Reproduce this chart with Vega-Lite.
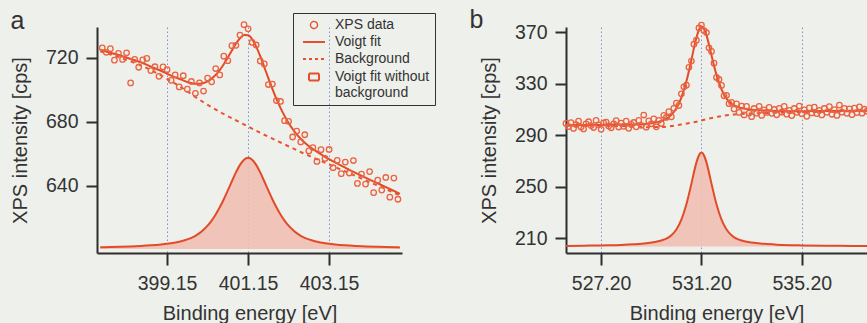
{
  "$schema": "https://vega.github.io/schema/vega-lite/v6.json",
  "background": "#eef0ec",
  "padding": {"left": 10, "top": 7, "right": 0, "bottom": 0},
  "bounds": "flush",
  "spacing": 164,
  "config": {
    "font": "Liberation Sans",
    "view": {"stroke": null},
    "axis": {
      "labelFont": "Liberation Sans", "labelFontSize": 19.5, "labelColor": "#333333",
      "titleFont": "Liberation Sans", "titleFontSize": 20, "titleFontWeight": "normal", "titleColor": "#333333",
      "domainColor": "#2e2e2e", "domainWidth": 2, "tickColor": "#2e2e2e", "tickWidth": 2
    },
    "axisX": {"tickSize": 12, "labelPadding": 9, "titlePadding": 11, "grid": true, "gridColor": "#8888dd", "gridDash": [1.5, 2.5], "gridWidth": 1, "labelFlush": false},
    "axisY": {"tickSize": 11, "labelPadding": 8, "titlePadding": 15, "grid": false},
    "title": {"font": "Liberation Sans", "fontSize": 25, "fontWeight": "normal", "color": "#333333", "anchor": "start", "frame": "bounds", "baseline": "alphabetic"}
  },
  "datasets": {
    "a_data": [
      {"x":397.55,"y":726.2},{"x":397.65,"y":723.4},{"x":397.75,"y":725.7},{"x":397.85,"y":718.5},{"x":397.95,"y":722.8},
      {"x":398.05,"y":719.0},{"x":398.15,"y":723.1},{"x":398.25,"y":704.3},{"x":398.35,"y":719.0},{"x":398.45,"y":714.1},
      {"x":398.55,"y":718.7},{"x":398.65,"y":719.6},{"x":398.75,"y":712.0},{"x":398.85,"y":714.4},{"x":398.95,"y":708.4},
      {"x":399.05,"y":714.3},{"x":399.15,"y":712.6},{"x":399.25,"y":705.9},{"x":399.35,"y":709.3},{"x":399.45,"y":701.8},
      {"x":399.55,"y":708.8},{"x":399.65,"y":700.4},{"x":399.75,"y":705.2},{"x":399.85,"y":697.8},{"x":399.95,"y":704.3},
      {"x":400.05,"y":699.2},{"x":400.15,"y":707.3},{"x":400.25,"y":705.0},{"x":400.35,"y":713.3},{"x":400.45,"y":709.3},
      {"x":400.55,"y":721.0},{"x":400.65,"y":718.2},{"x":400.75,"y":727.6},{"x":400.85,"y":727.8},{"x":400.95,"y":734.2},
      {"x":401.05,"y":740.7},{"x":401.15,"y":738.1},{"x":401.25,"y":729.6},{"x":401.35,"y":728.0},{"x":401.45,"y":718.0},
      {"x":401.55,"y":716.2},{"x":401.65,"y":703.3},{"x":401.75,"y":703.6},{"x":401.85,"y":693.3},{"x":401.95,"y":692.7},
      {"x":402.05,"y":680.7},{"x":402.15,"y":680.3},{"x":402.25,"y":670.5},{"x":402.35,"y":674.2},{"x":402.45,"y":667.4},
      {"x":402.55,"y":671.9},{"x":402.65,"y":661.8},{"x":402.75,"y":663.9},{"x":402.85,"y":655.2},{"x":402.95,"y":662.6},
      {"x":403.05,"y":657.1},{"x":403.15,"y":662.7},{"x":403.25,"y":651.3},{"x":403.35,"y":655.9},{"x":403.45,"y":647.6},
      {"x":403.55,"y":654.8},{"x":403.65,"y":648.0},{"x":403.75,"y":655.8},{"x":403.85,"y":641.5},{"x":403.95,"y":647.3},
      {"x":404.05,"y":641.1},{"x":404.15,"y":648.9},{"x":404.25,"y":635.7},{"x":404.35,"y":643.5},{"x":404.45,"y":637.3},
      {"x":404.55,"y":645.2},{"x":404.65,"y":632.9},{"x":404.75,"y":644.8},{"x":404.85,"y":631.6}
    ],
    "a_fit": [
      {"x":397.5,"y":725.05},{"x":397.75,"y":723.2},{"x":398.0,"y":721.4},{"x":398.25,"y":719.3},{"x":398.5,"y":717.2},
      {"x":398.75,"y":714.5},{"x":399.0,"y":711.9},{"x":399.25,"y":708.9},{"x":399.5,"y":706.4},{"x":399.65,"y":704.9},
      {"x":399.75,"y":704.2},{"x":399.85,"y":703.8},{"x":399.95,"y":703.8},{"x":400.05,"y":704.2},{"x":400.15,"y":705.3},
      {"x":400.25,"y":707.0},{"x":400.35,"y":709.3},{"x":400.45,"y":712.3},{"x":400.55,"y":716.0},{"x":400.65,"y":720.2},
      {"x":400.75,"y":724.6},{"x":400.85,"y":728.8},{"x":400.95,"y":732.2},{"x":401.05,"y":734.2},{"x":401.15,"y":734.1},
      {"x":401.25,"y":731.6},{"x":401.35,"y":727.0},{"x":401.45,"y":721.0},{"x":401.55,"y":714.2},{"x":401.65,"y":707.3},
      {"x":401.75,"y":700.6},{"x":401.85,"y":694.3},{"x":401.95,"y":688.7},{"x":402.05,"y":683.7},{"x":402.15,"y":679.3},
      {"x":402.25,"y":675.5},{"x":402.35,"y":672.2},{"x":402.45,"y":669.4},{"x":402.55,"y":666.9},{"x":402.65,"y":664.8},
      {"x":402.8,"y":662.1},{"x":403.05,"y":658.1},{"x":403.3,"y":654.6},{"x":403.55,"y":651.3},{"x":403.8,"y":648.1},
      {"x":404.05,"y":645.1},{"x":404.3,"y":642.1},{"x":404.55,"y":639.2},{"x":404.8,"y":636.2},{"x":404.9,"y":635.0}
    ],
    "a_bg": [
      {"x":397.5,"y":724},{"x":398.0,"y":720},{"x":398.5,"y":715.3},{"x":399.0,"y":709},{"x":399.5,"y":701.5},
      {"x":400.0,"y":693},{"x":400.5,"y":685.5},{"x":401.0,"y":679},{"x":401.5,"y":672.5},{"x":402.0,"y":666.5},
      {"x":402.5,"y":660.5},{"x":403.0,"y":655},{"x":403.5,"y":649.5},{"x":404.0,"y":644},{"x":404.5,"y":638.5},{"x":404.9,"y":634}
    ],
    "a_peak": [
      {"x":397.5,"y":601.55},{"x":397.75,"y":601.71},{"x":398.0,"y":601.9},{"x":398.25,"y":602.14},{"x":398.5,"y":602.44},
      {"x":398.75,"y":602.84},{"x":399.0,"y":603.37},{"x":399.25,"y":604.15},{"x":399.5,"y":605.36},{"x":399.65,"y":606.48},
      {"x":399.75,"y":607.48},{"x":399.85,"y":608.77},{"x":399.95,"y":610.41},{"x":400.05,"y":612.48},{"x":400.15,"y":615.08},
      {"x":400.25,"y":618.26},{"x":400.35,"y":622.08},{"x":400.45,"y":626.54},{"x":400.55,"y":631.6},{"x":400.65,"y":637.12},
      {"x":400.75,"y":642.84},{"x":400.85,"y":648.36},{"x":400.95,"y":653.09},{"x":401.05,"y":656.34},{"x":401.15,"y":657.5},
      {"x":401.25,"y":656.34},{"x":401.35,"y":653.09},{"x":401.45,"y":648.36},{"x":401.55,"y":642.84},{"x":401.65,"y":637.12},
      {"x":401.75,"y":631.6},{"x":401.85,"y":626.54},{"x":401.95,"y":622.08},{"x":402.05,"y":618.26},{"x":402.15,"y":615.08},
      {"x":402.25,"y":612.48},{"x":402.35,"y":610.41},{"x":402.45,"y":608.77},{"x":402.55,"y":607.48},{"x":402.65,"y":606.48},
      {"x":402.8,"y":605.36},{"x":403.05,"y":604.15},{"x":403.3,"y":603.37},{"x":403.55,"y":602.84},{"x":403.8,"y":602.44},
      {"x":404.05,"y":602.14},{"x":404.3,"y":601.9},{"x":404.55,"y":601.71},{"x":404.8,"y":601.55},{"x":404.9,"y":601.5}
    ],
    "b_data": [
      {"x":525.8,"y":299.1},{"x":525.9,"y":296.6},{"x":526.0,"y":299.7},{"x":526.1,"y":295.2},{"x":526.2,"y":298.2},
      {"x":526.3,"y":300.8},{"x":526.4,"y":296.3},{"x":526.5,"y":294.8},{"x":526.6,"y":298.8},{"x":526.7,"y":300.4},
      {"x":526.8,"y":297.4},{"x":526.9,"y":295.9},{"x":527.0,"y":301.4},{"x":527.1,"y":298.0},{"x":527.2,"y":294.5},
      {"x":527.3,"y":299.5},{"x":527.4,"y":300.1},{"x":527.5,"y":297.1},{"x":527.6,"y":295.7},{"x":527.7,"y":298.7},
      {"x":527.8,"y":301.2},{"x":527.9,"y":296.3},{"x":528.0,"y":299.3},{"x":528.1,"y":296.8},{"x":528.2,"y":300.8},
      {"x":528.3,"y":295.3},{"x":528.4,"y":298.3},{"x":528.5,"y":299.8},{"x":528.6,"y":296.4},{"x":528.7,"y":301.5},
      {"x":528.8,"y":297.6},{"x":528.9,"y":305.6},{"x":529.0,"y":296.2},{"x":529.1,"y":301.0},{"x":529.2,"y":298.8},
      {"x":529.3,"y":302.6},{"x":529.4,"y":296.4},{"x":529.5,"y":301.5},{"x":529.6,"y":299.0},{"x":529.7,"y":305.4},
      {"x":529.8,"y":303.7},{"x":529.9,"y":308.2},{"x":530.0,"y":304.2},{"x":530.1,"y":310.8},{"x":530.2,"y":314.8},
      {"x":530.3,"y":313.0},{"x":530.4,"y":322.1},{"x":530.5,"y":327.5},{"x":530.6,"y":328.8},{"x":530.7,"y":342.7},
      {"x":530.8,"y":347.5},{"x":530.9,"y":360.6},{"x":531.0,"y":363.7},{"x":531.1,"y":373.3},{"x":531.2,"y":375.4},
      {"x":531.3,"y":371.2},{"x":531.4,"y":369.7},{"x":531.5,"y":357.8},{"x":531.6,"y":355.0},{"x":531.7,"y":345.9},
      {"x":531.8,"y":334.8},{"x":531.9,"y":333.2},{"x":532.0,"y":328.6},{"x":532.1,"y":320.5},{"x":532.2,"y":320.9},
      {"x":532.3,"y":314.4},{"x":532.4,"y":315.4},{"x":532.5,"y":310.3},{"x":532.6,"y":314.2},{"x":532.7,"y":307.6},
      {"x":532.8,"y":312.5},{"x":532.9,"y":305.7},{"x":533.0,"y":312.4},{"x":533.1,"y":307.1},{"x":533.2,"y":304.3},
      {"x":533.3,"y":310.7},{"x":533.4,"y":307.0},{"x":533.5,"y":312.4},{"x":533.6,"y":305.3},{"x":533.7,"y":309.6},
      {"x":533.8,"y":307.6},{"x":533.9,"y":311.5},{"x":534.0,"y":306.9},{"x":534.1,"y":309.9},{"x":534.2,"y":305.8},
      {"x":534.3,"y":310.8},{"x":534.4,"y":307.8},{"x":534.5,"y":312.3},{"x":534.6,"y":306.3},{"x":534.7,"y":309.2},
      {"x":534.8,"y":305.2},{"x":534.9,"y":310.7},{"x":535.0,"y":307.7},{"x":535.1,"y":312.6},{"x":535.2,"y":306.6},
      {"x":535.3,"y":309.6},{"x":535.4,"y":304.6},{"x":535.5,"y":311.1},{"x":535.6,"y":307.2},{"x":535.7,"y":311.7},
      {"x":535.8,"y":306.7},{"x":535.9,"y":309.2},{"x":536.0,"y":305.7},{"x":536.1,"y":310.7},{"x":536.2,"y":307.7},
      {"x":536.3,"y":312.2},{"x":536.4,"y":306.2},{"x":536.5,"y":309.8},{"x":536.6,"y":305.3},{"x":536.7,"y":313.3},
      {"x":536.8,"y":307.8},{"x":536.9,"y":310.8},{"x":537.0,"y":306.9},{"x":537.1,"y":310.4},{"x":537.2,"y":305.9},
      {"x":537.3,"y":310.9},{"x":537.4,"y":307.5},{"x":537.5,"y":312.0},{"x":537.6,"y":307.0},{"x":537.7,"y":310.1},
      {"x":537.8,"y":308.6}
    ],
    "b_fit": [
      {"x":525.8,"y":297.6},{"x":526.5,"y":297.8},{"x":527.0,"y":297.9},{"x":527.5,"y":298.1},{"x":528.0,"y":298.3},
      {"x":528.5,"y":298.3},{"x":529.0,"y":298.7},{"x":529.4,"y":299.9},{"x":529.6,"y":301.0},{"x":529.8,"y":302.7},
      {"x":530.0,"y":305.7},{"x":530.2,"y":310.8},{"x":530.4,"y":319.1},{"x":530.6,"y":331.8},{"x":530.8,"y":348.5},
      {"x":530.9,"y":357.6},{"x":531.0,"y":365.7},{"x":531.1,"y":371.8},{"x":531.2,"y":374.4},{"x":531.3,"y":372.7},
      {"x":531.4,"y":367.7},{"x":531.5,"y":360.3},{"x":531.6,"y":352.0},{"x":531.8,"y":336.8},{"x":532.0,"y":325.6},
      {"x":532.2,"y":318.4},{"x":532.4,"y":314.4},{"x":532.6,"y":312.2},{"x":532.8,"y":311.0},{"x":533.2,"y":309.8},
      {"x":533.7,"y":309.1},{"x":534.2,"y":308.8},{"x":535.2,"y":308.6},{"x":536.2,"y":308.7},{"x":537.2,"y":308.9},
      {"x":537.8,"y":309.1}
    ],
    "b_bg": [
      {"x":525.8,"y":297.2},{"x":527.0,"y":297.2},{"x":528.0,"y":297.1},{"x":528.5,"y":296.6},{"x":529.0,"y":296.2},
      {"x":529.5,"y":296.3},{"x":530.0,"y":297.0},{"x":530.5,"y":298.6},{"x":531.0,"y":300.4},{"x":531.5,"y":302.8},
      {"x":532.0,"y":304.8},{"x":532.5,"y":306.0},{"x":533.0,"y":306.7},{"x":534.0,"y":307.3},{"x":535.0,"y":307.7},
      {"x":536.0,"y":308.1},{"x":537.0,"y":308.5},{"x":537.8,"y":308.8}
    ],
    "b_peak": [
      {"x":525.8,"y":203.9},{"x":526.5,"y":204.1},{"x":527.0,"y":204.2},{"x":527.5,"y":204.4},{"x":528.0,"y":204.7},
      {"x":528.5,"y":205.2},{"x":529.0,"y":206.0},{"x":529.4,"y":207.2},{"x":529.6,"y":208.1},{"x":529.8,"y":209.5},
      {"x":530.0,"y":212.2},{"x":530.2,"y":216.7},{"x":530.4,"y":224.3},{"x":530.6,"y":236.3},{"x":530.8,"y":252.3},
      {"x":530.9,"y":261.0},{"x":531.0,"y":268.8},{"x":531.1,"y":274.4},{"x":531.2,"y":276.5},{"x":531.3,"y":274.4},
      {"x":531.4,"y":268.8},{"x":531.5,"y":261.0},{"x":531.6,"y":252.3},{"x":531.8,"y":236.3},{"x":532.0,"y":224.3},
      {"x":532.2,"y":216.7},{"x":532.4,"y":212.2},{"x":532.6,"y":209.5},{"x":532.8,"y":208.1},{"x":533.2,"y":206.5},
      {"x":533.7,"y":205.5},{"x":534.2,"y":204.9},{"x":535.2,"y":204.3},{"x":536.2,"y":204.0},{"x":537.2,"y":203.9},
      {"x":537.8,"y":203.8}
    ],
    "legend_rows": [
      {"series":"XPS data"},{"series":"Voigt fit"},{"series":"Background"},{"series":"Voigt fit without background"}
    ]
  },
  "hconcat": [
    {
      "width": 305,
      "height": 226,
      "title": {"text": "a", "offset": -15},
      "layer": [
        {
          "data": {"name": "a_peak"},
          "mark": {"type": "area", "color": "#efbfb3", "opacity": 0.9, "interpolate": "monotone"},
          "encoding": {
            "x": {"field": "x", "type": "quantitative", "scale": {"domain": [397.42, 404.95], "nice": false, "zero": false},
                  "axis": {"title": "Binding energy [eV]", "values": [399.15, 401.15, 403.15], "format": ".2f"}},
            "y": {"field": "y", "type": "quantitative", "scale": {"domain": [598, 739.25], "nice": false, "zero": false},
                  "axis": {"title": "XPS intensity [cps]", "values": [640, 680, 720]}},
            "y2": {"datum": 600.5}
          }
        },
        {
          "data": {"name": "a_peak"},
          "mark": {"type": "line", "color": "#e24b28", "strokeWidth": 2, "interpolate": "monotone"},
          "encoding": {"x": {"field": "x", "type": "quantitative"}, "y": {"field": "y", "type": "quantitative"}}
        },
        {
          "data": {"name": "a_bg"},
          "mark": {"type": "line", "color": "#e8542e", "strokeWidth": 2, "strokeDash": [4, 4], "interpolate": "monotone"},
          "encoding": {"x": {"field": "x", "type": "quantitative"}, "y": {"field": "y", "type": "quantitative"}}
        },
        {
          "data": {"name": "a_fit"},
          "mark": {"type": "line", "color": "#e24b28", "strokeWidth": 2, "interpolate": "monotone"},
          "encoding": {"x": {"field": "x", "type": "quantitative"}, "y": {"field": "y", "type": "quantitative"}}
        },
        {
          "data": {"name": "a_data"},
          "mark": {"type": "point", "color": "#eb6240", "size": 30, "strokeWidth": 1.3, "filled": false, "opacity": 1},
          "encoding": {"x": {"field": "x", "type": "quantitative"}, "y": {"field": "y", "type": "quantitative"}}
        },
        {
          "data": {"name": "legend_rows"},
          "mark": {"type": "point", "opacity": 0, "filled": true, "stroke": "#e4502b"},
          "encoding": {
            "shape": {
              "field": "series", "type": "nominal",
              "scale": {"domain": ["XPS data", "Voigt fit", "Background", "Voigt fit without background"],
                        "range": ["circle", "M-2.2,0H2.2", "M-2.2,0H2.2", "M-1,-0.7H1V0.7H-1Z"]},
              "legend": {
                "title": null, "orient": "none", "legendX": 196, "legendY": -14,
                "strokeColor": "#333333", "padding": 5, "labelFont": "Liberation Sans", "labelFontSize": 14,
                "labelColor": "#333333", "labelOffset": 14, "symbolOffset": 9, "rowPadding": 3, "labelLimit": 300,
                "symbolOpacity": 1, "symbolStrokeColor": "#e4502b",
                "labelExpr": "datum.value == 'Voigt fit without background' ? ['Voigt fit without', 'background'] : datum.label"
              }
            },
            "size": {
              "field": "series", "type": "nominal",
              "scale": {"type": "ordinal", "domain": ["XPS data", "Voigt fit", "Background", "Voigt fit without background"], "range": [50, 100, 100, 100]}
            },
            "fill": {
              "field": "series", "type": "nominal",
              "scale": {"domain": ["XPS data", "Voigt fit", "Background", "Voigt fit without background"], "range": ["transparent", "transparent", "transparent", "#efbfb3"]}
            },
            "strokeDash": {
              "field": "series", "type": "nominal",
              "scale": {"domain": ["XPS data", "Voigt fit", "Background", "Voigt fit without background"], "range": [[1, 0], [1, 0], [3, 3], [1, 0]]}
            },
            "strokeWidth": {
              "field": "series", "type": "nominal",
              "scale": {"type": "ordinal", "domain": ["XPS data", "Voigt fit", "Background", "Voigt fit without background"], "range": [1.3, 2, 2, 2]}
            }
          }
        }
      ]
    },
    {
      "width": 301,
      "height": 226,
      "title": {"text": "b", "offset": -13, "dx": -10},
      "layer": [
        {
          "data": {"name": "b_peak"},
          "mark": {"type": "area", "color": "#efbfb3", "opacity": 0.9, "interpolate": "monotone"},
          "encoding": {
            "x": {"field": "x", "type": "quantitative", "scale": {"domain": [525.8, 537.8], "nice": false, "zero": false},
                  "axis": {"title": "Binding energy [eV]", "values": [527.2, 531.2, 535.2], "format": ".2f"}},
            "y": {"field": "y", "type": "quantitative", "scale": {"domain": [198.4, 374], "nice": false, "zero": false},
                  "axis": {"title": "XPS intensity [cps]", "values": [210, 250, 290, 330, 370]}},
            "y2": {"datum": 203.5}
          }
        },
        {
          "data": {"name": "b_peak"},
          "mark": {"type": "line", "color": "#e24b28", "strokeWidth": 2, "interpolate": "monotone"},
          "encoding": {"x": {"field": "x", "type": "quantitative"}, "y": {"field": "y", "type": "quantitative"}}
        },
        {
          "data": {"name": "b_bg"},
          "mark": {"type": "line", "color": "#e8542e", "strokeWidth": 2, "strokeDash": [4, 4], "interpolate": "monotone"},
          "encoding": {"x": {"field": "x", "type": "quantitative"}, "y": {"field": "y", "type": "quantitative"}}
        },
        {
          "data": {"name": "b_fit"},
          "mark": {"type": "line", "color": "#e24b28", "strokeWidth": 2, "interpolate": "monotone"},
          "encoding": {"x": {"field": "x", "type": "quantitative"}, "y": {"field": "y", "type": "quantitative"}}
        },
        {
          "data": {"name": "b_data"},
          "mark": {"type": "point", "color": "#eb6240", "size": 30, "strokeWidth": 1.3, "filled": false, "opacity": 1},
          "encoding": {"x": {"field": "x", "type": "quantitative"}, "y": {"field": "y", "type": "quantitative"}}
        }
      ]
    }
  ]
}
